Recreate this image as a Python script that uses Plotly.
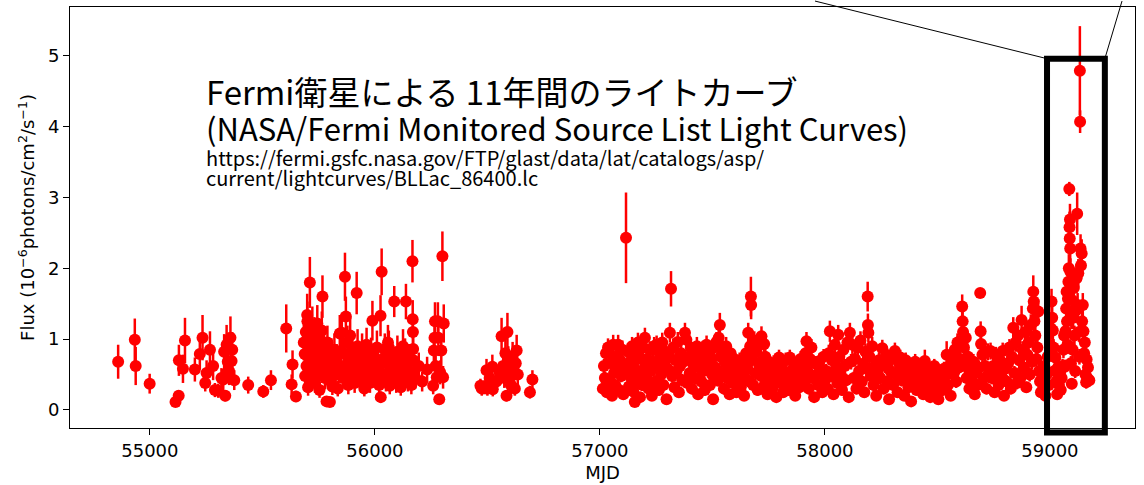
import plotly.graph_objects as go

# Fermi-LAT daily light curve of BL Lac: (MJD, flux [1e-6 ph/cm2/s], 1-sigma error)
early_2009 = [
    (54859, 0.68, 0.24), (54933, 0.99, 0.30), (54937, 0.62, 0.27), (54999, 0.37, 0.14),
    (55114, 0.11, 0.06), (55128, 0.20, 0.08), (55129, 0.70, 0.22), (55147, 0.58, 0.20),
    (55156, 0.98, 0.32), (55200, 0.57, 0.17), (55222, 0.79, 0.22), (55234, 1.02, 0.32),
    (55246, 0.38, 0.12), (55252, 0.52, 0.18), (55267, 0.85, 0.26), (55281, 0.62, 0.20),
    (55289, 0.28, 0.10), (55304, 0.27, 0.10), (55318, 0.45, 0.14), (55326, 0.43, 0.15),
    (55330, 0.82, 0.25), (55335, 0.20, 0.08), (55341, 0.92, 0.28), (55346, 0.68, 0.22),
    (55352, 0.55, 0.20), (55358, 1.02, 0.30), (55363, 0.69, 0.20), (55366, 0.85, 0.25),
    (55375, 0.42, 0.14), (55437, 0.35, 0.12), (55504, 0.26, 0.09), (55538, 0.42, 0.14),
    (55606, 1.15, 0.34), (55630, 0.36, 0.14), (55634, 0.64, 0.20), (55649, 0.19, 0.08),
]

active_2011 = [
    (55684, 0.95, 0.25), (55688, 0.79, 0.22), (55690, 0.48, 0.16), (55693, 1.10, 0.28),
    (55696, 0.62, 0.20), (55699, 1.34, 0.30), (55700, 1.25, 0.28), (55703, 0.32, 0.12),
    (55705, 0.88, 0.24), (55708, 0.55, 0.18), (55711, 1.80, 0.36), (55713, 1.02, 0.26),
    (55716, 0.70, 0.22), (55719, 0.42, 0.15), (55722, 1.18, 0.28), (55725, 0.85, 0.24),
    (55728, 0.60, 0.20), (55731, 1.05, 0.26), (55734, 0.38, 0.14), (55737, 0.92, 0.25),
    (55740, 0.66, 0.20), (55744, 1.22, 0.26), (55747, 0.50, 0.17), (55750, 0.80, 0.22),
    (55754, 0.28, 0.11), (55757, 0.98, 0.25), (55760, 0.72, 0.21), (55764, 1.12, 0.27),
    (55767, 1.60, 0.30), (55770, 0.58, 0.19), (55774, 0.88, 0.23), (55778, 0.45, 0.16),
    (55781, 0.75, 0.21), (55785, 0.12, 0.06), (55789, 0.95, 0.24), (55793, 0.55, 0.18),
    (55797, 0.68, 0.20), (55800, 0.11, 0.06), (55804, 0.40, 0.14), (55807, 0.79, 0.22),
    (55811, 0.33, 0.12), (55815, 0.62, 0.19), (55820, 0.85, 0.23), (55825, 0.50, 0.17),
    (55830, 0.72, 0.21), (55835, 0.30, 0.11), (55840, 0.58, 0.18), (55844, 1.08, 0.26),
    (55849, 0.62, 0.19), (55853, 1.09, 0.27), (55858, 0.45, 0.15), (55862, 0.80, 0.22),
    (55867, 1.88, 0.34), (55871, 1.32, 0.28), (55874, 0.55, 0.18), (55878, 0.95, 0.24),
    (55882, 0.35, 0.13), (55886, 0.70, 0.21), (55890, 1.05, 0.26), (55895, 0.48, 0.16),
    (55900, 0.82, 0.23), (55905, 0.60, 0.19), (55910, 0.38, 0.14), (55914, 0.75, 0.21),
    (55919, 1.65, 0.30), (55923, 0.90, 0.24), (55928, 0.52, 0.17), (55933, 0.68, 0.20),
    (55938, 0.42, 0.15), (55943, 0.85, 0.23), (55948, 0.58, 0.18), (55953, 0.30, 0.11),
    (55958, 0.72, 0.21), (55963, 0.92, 0.24), (55968, 0.50, 0.17), (55973, 0.65, 0.20),
    (55978, 0.38, 0.14), (55983, 0.80, 0.22), (55989, 1.26, 0.28), (55994, 0.55, 0.18),
    (55999, 0.70, 0.21), (56004, 0.45, 0.15), (56009, 0.88, 0.24), (56014, 0.62, 0.19),
    (56019, 0.35, 0.13), (56025, 1.33, 0.29), (56026, 0.18, 0.08), (56030, 1.95, 0.33),
    (56034, 0.72, 0.21), (56039, 0.50, 0.17), (56044, 0.85, 0.23), (56049, 0.40, 0.14),
    (56054, 0.66, 0.20), (56058, 0.95, 0.25), (56062, 0.88, 0.24), (56066, 0.34, 0.12),
    (56070, 0.58, 0.18), (56075, 0.78, 0.22), (56080, 0.45, 0.15), (56086, 1.53, 0.22),
    (56090, 0.65, 0.20), (56095, 0.38, 0.14), (56100, 0.82, 0.23), (56105, 0.55, 0.18),
    (56110, 0.70, 0.21), (56115, 0.32, 0.12), (56120, 0.62, 0.19), (56125, 0.90, 0.24),
    (56130, 0.48, 0.16), (56134, 0.79, 0.22), (56138, 1.53, 0.25), (56142, 0.60, 0.19),
    (56147, 0.40, 0.14), (56152, 0.72, 0.21), (56157, 0.52, 0.17), (56162, 0.35, 0.13),
    (56167, 2.10, 0.30), (56168, 1.28, 0.27), (56169, 1.10, 0.26), (56170, 0.86, 0.24),
    (56171, 0.70, 0.21), (56172, 0.52, 0.17), (56180, 0.45, 0.15), (56195, 0.62, 0.19),
    (56210, 0.40, 0.14), (56232, 0.57, 0.18), (56259, 0.34, 0.12), (56262, 0.84, 0.23),
    (56265, 1.02, 0.26), (56267, 1.25, 0.27), (56270, 0.62, 0.19), (56275, 0.46, 0.16),
    (56280, 1.25, 0.27), (56282, 1.02, 0.26), (56286, 0.15, 0.07), (56290, 0.53, 0.17),
    (56295, 0.84, 0.23), (56300, 2.17, 0.35), (56303, 0.46, 0.16), (56306, 1.22, 0.27),
]

season_2013 = [
    (56469, 0.34, 0.10), (56475, 0.30, 0.10), (56487, 0.32, 0.10), (56496, 0.56, 0.16),
    (56500, 0.30, 0.10), (56510, 0.45, 0.14), (56522, 0.61, 0.17), (56524, 0.29, 0.10),
    (56540, 0.40, 0.13), (56555, 0.52, 0.16), (56563, 1.04, 0.26), (56570, 0.62, 0.18),
    (56575, 0.45, 0.14), (56580, 0.80, 0.22), (56585, 0.20, 0.08), (56589, 1.10, 0.27),
    (56593, 0.70, 0.20), (56597, 0.55, 0.16), (56600, 0.62, 0.18), (56604, 0.35, 0.12),
    (56607, 0.48, 0.15), (56612, 0.75, 0.21), (56616, 0.58, 0.17), (56622, 0.30, 0.10),
    (56626, 0.66, 0.19), (56630, 0.84, 0.22), (56635, 0.50, 0.15), (56689, 0.25, 0.09),
    (56700, 0.43, 0.13),
]

season_2015 = [
    (57013, 0.30, 0.08), (57018, 0.62, 0.10), (57022, 0.45, 0.09), (57027, 0.80, 0.12),
    (57031, 0.25, 0.07), (57036, 0.88, 0.13), (57040, 0.83, 0.12), (57045, 0.40, 0.09),
    (57050, 0.66, 0.11), (57054, 0.20, 0.07), (57059, 0.92, 0.14), (57063, 0.52, 0.10),
    (57068, 0.35, 0.08), (57072, 0.75, 0.11), (57077, 0.58, 0.10), (57081, 0.92, 0.14),
    (57086, 0.28, 0.08), (57090, 0.70, 0.11), (57095, 0.48, 0.09), (57100, 0.85, 0.13),
    (57104, 0.22, 0.07), (57109, 0.62, 0.10), (57116, 2.43, 0.64), (57120, 0.55, 0.10),
    (57125, 0.82, 0.12), (57129, 0.33, 0.08), (57134, 0.68, 0.11), (57139, 0.45, 0.09),
    (57143, 0.90, 0.13), (57148, 0.26, 0.08), (57152, 0.60, 0.10), (57155, 0.11, 0.05),
    (57160, 0.78, 0.12), (57165, 0.40, 0.09), (57169, 0.95, 0.14), (57174, 0.52, 0.10),
    (57178, 0.18, 0.06), (57183, 0.72, 0.11), (57188, 0.35, 0.08), (57192, 0.88, 0.13),
    (57197, 0.58, 0.10), (57200, 1.02, 0.14), (57206, 0.45, 0.09), (57211, 0.72, 0.11),
    (57216, 0.30, 0.08), (57221, 0.85, 0.12), (57226, 0.55, 0.10), (57231, 0.20, 0.07),
    (57236, 0.68, 0.11), (57241, 0.90, 0.13), (57246, 0.40, 0.09), (57252, 0.92, 0.13),
    (57257, 0.62, 0.10), (57262, 0.28, 0.08), (57267, 0.78, 0.12), (57272, 0.50, 0.10),
    (57277, 0.95, 0.14), (57282, 0.35, 0.08), (57287, 0.65, 0.11), (57292, 0.82, 0.12),
    (57296, 0.15, 0.06), (57301, 0.58, 0.10), (57306, 0.75, 0.11), (57311, 1.09, 0.14),
    (57316, 1.71, 0.25), (57321, 0.48, 0.09), (57326, 0.88, 0.13), (57331, 0.32, 0.08),
    (57336, 0.70, 0.11), (57341, 0.55, 0.10), (57346, 0.96, 0.14), (57351, 0.25, 0.07),
    (57356, 0.62, 0.10), (57361, 0.80, 0.12), (57366, 0.42, 0.09), (57371, 0.68, 0.11),
    (57378, 1.09, 0.14), (57384, 0.99, 0.13), (57389, 0.38, 0.09), (57394, 0.75, 0.11),
    (57399, 0.52, 0.10), (57404, 0.88, 0.13), (57409, 0.30, 0.08), (57414, 0.65, 0.11),
    (57419, 0.80, 0.12), (57424, 0.45, 0.09), (57431, 0.90, 0.13), (57436, 0.22, 0.07),
    (57441, 0.60, 0.10), (57446, 0.72, 0.11),
]

season_2016 = [
    (57451, 0.40, 0.09), (57456, 0.85, 0.12), (57461, 0.55, 0.10), (57466, 0.28, 0.08),
    (57474, 0.92, 0.13), (57479, 0.62, 0.10), (57484, 0.78, 0.12), (57489, 0.35, 0.08),
    (57494, 0.70, 0.11), (57499, 0.50, 0.10), (57503, 0.15, 0.06), (57508, 0.88, 0.13),
    (57513, 0.60, 0.10), (57518, 0.96, 0.14), (57523, 0.42, 0.09), (57528, 1.02, 0.14),
    (57533, 1.20, 0.17), (57536, 0.75, 0.11), (57541, 0.52, 0.10), (57546, 0.85, 0.12),
    (57551, 0.30, 0.08), (57556, 0.68, 0.11), (57561, 0.90, 0.13), (57566, 0.45, 0.09),
    (57571, 0.62, 0.10), (57576, 0.22, 0.07), (57581, 0.80, 0.12), (57586, 0.55, 0.10),
    (57591, 0.38, 0.09), (57596, 0.72, 0.11), (57601, 0.48, 0.09), (57606, 0.25, 0.07),
    (57611, 0.66, 0.11), (57616, 0.40, 0.09), (57621, 0.70, 0.11), (57626, 0.32, 0.08),
    (57631, 0.55, 0.10), (57636, 0.68, 0.11), (57641, 0.20, 0.07), (57646, 0.45, 0.09),
    (57650, 0.80, 0.12), (57655, 0.58, 0.10), (57659, 1.09, 0.14), (57664, 0.40, 0.09),
    (57668, 0.90, 0.13), (57671, 1.60, 0.28), (57672, 1.48, 0.20), (57676, 0.72, 0.11),
    (57681, 0.35, 0.08), (57686, 0.98, 0.13), (57691, 0.52, 0.10), (57696, 0.82, 0.12),
    (57701, 0.28, 0.08), (57706, 0.65, 0.11), (57711, 0.92, 0.13), (57716, 0.48, 0.09),
    (57718, 1.04, 0.14), (57723, 0.60, 0.10), (57728, 0.33, 0.08), (57730, 0.93, 0.13),
    (57735, 0.75, 0.11), (57740, 0.50, 0.10), (57745, 0.22, 0.07), (57750, 0.68, 0.11),
    (57755, 0.42, 0.09), (57760, 0.58, 0.10), (57766, 0.30, 0.08), (57772, 0.66, 0.11),
    (57778, 0.45, 0.09), (57784, 0.18, 0.06), (57790, 0.55, 0.10), (57796, 0.74, 0.11),
    (57802, 0.38, 0.09), (57808, 0.62, 0.10), (57814, 0.25, 0.07), (57820, 0.50, 0.10),
    (57826, 0.70, 0.11), (57832, 0.42, 0.09), (57838, 0.28, 0.08), (57844, 0.74, 0.11),
    (57850, 0.55, 0.10), (57856, 0.35, 0.08), (57862, 0.65, 0.11), (57868, 0.20, 0.07),
    (57874, 0.48, 0.09), (57880, 0.60, 0.10), (57886, 0.32, 0.08), (57892, 0.72, 0.11),
    (57898, 0.45, 0.09),
]

season_2017 = [
    (57904, 0.62, 0.10), (57910, 0.40, 0.09), (57914, 0.80, 0.12), (57918, 0.97, 0.13),
    (57922, 0.55, 0.10), (57928, 0.30, 0.08), (57934, 0.72, 0.11), (57940, 0.88, 0.12),
    (57946, 0.45, 0.09), (57952, 0.18, 0.06), (57958, 0.65, 0.11), (57964, 0.50, 0.10),
    (57970, 0.35, 0.08), (57976, 0.69, 0.11), (57982, 0.58, 0.10), (57988, 0.25, 0.07),
    (57994, 0.75, 0.11), (58000, 0.42, 0.09), (58006, 0.55, 0.10), (58012, 0.30, 0.08),
    (58017, 0.80, 0.12), (58022, 1.11, 0.15), (58027, 0.48, 0.09), (58032, 0.70, 0.11),
    (58038, 0.22, 0.07), (58044, 0.92, 0.13), (58050, 0.60, 0.10), (58055, 0.38, 0.09),
    (58059, 1.06, 0.14), (58064, 0.75, 0.11), (58070, 0.50, 0.10), (58076, 0.28, 0.08),
    (58082, 0.85, 0.12), (58088, 0.62, 0.10), (58094, 0.42, 0.09), (58100, 0.95, 0.13),
    (58106, 0.18, 0.06), (58111, 1.09, 0.14), (58116, 0.68, 0.11), (58122, 0.92, 0.13),
    (58128, 0.45, 0.09), (58134, 0.72, 0.11), (58140, 0.30, 0.08), (58146, 0.88, 0.12),
    (58152, 0.55, 0.10), (58158, 0.98, 0.13), (58164, 0.40, 0.09), (58170, 0.65, 0.11),
    (58175, 0.25, 0.07), (58180, 0.82, 0.12), (58185, 0.58, 0.10), (58190, 1.60, 0.21),
    (58191, 1.20, 0.16), (58193, 1.09, 0.14), (58198, 0.75, 0.11), (58204, 0.48, 0.09),
    (58210, 0.90, 0.13), (58216, 0.35, 0.08), (58222, 0.62, 0.10), (58228, 0.20, 0.07),
    (58234, 0.52, 0.10), (58240, 0.70, 0.11),
]

season_2018 = [
    (58246, 0.45, 0.09), (58251, 0.68, 0.11), (58255, 0.87, 0.12), (58261, 0.30, 0.08),
    (58267, 0.62, 0.10), (58273, 0.78, 0.11), (58279, 0.40, 0.09), (58285, 0.15, 0.06),
    (58291, 0.55, 0.10), (58297, 0.72, 0.11), (58303, 0.35, 0.08), (58311, 0.83, 0.12),
    (58317, 0.50, 0.10), (58323, 0.25, 0.07), (58329, 0.66, 0.11), (58335, 0.74, 0.11),
    (58341, 0.42, 0.09), (58347, 0.58, 0.10), (58353, 0.20, 0.07), (58359, 0.70, 0.11),
    (58365, 0.48, 0.09), (58371, 0.32, 0.08), (58377, 0.62, 0.10), (58383, 0.12, 0.05),
    (58389, 0.55, 0.10), (58395, 0.40, 0.09), (58401, 0.68, 0.11), (58407, 0.28, 0.08),
    (58413, 0.50, 0.10), (58419, 0.60, 0.10), (58425, 0.38, 0.09), (58431, 0.55, 0.10),
    (58437, 0.22, 0.07), (58444, 0.69, 0.16), (58450, 0.45, 0.09), (58456, 0.30, 0.08),
    (58462, 0.60, 0.10), (58468, 0.18, 0.06), (58474, 0.50, 0.10), (58480, 0.35, 0.08),
    (58486, 0.62, 0.10), (58492, 0.25, 0.07), (58498, 0.42, 0.09), (58504, 0.15, 0.06),
    (58511, 0.54, 0.10), (58517, 0.40, 0.09), (58523, 0.28, 0.08), (58529, 0.58, 0.10),
    (58535, 0.48, 0.09), (58541, 0.78, 0.19), (58547, 0.35, 0.08), (58553, 0.62, 0.10),
    (58559, 0.20, 0.07), (58565, 0.72, 0.11), (58571, 0.50, 0.10), (58577, 0.85, 0.12),
    (58583, 0.40, 0.09), (58589, 0.95, 0.13), (58595, 0.60, 0.10),
]

season_2019 = [
    (58601, 0.72, 0.11), (58606, 0.98, 0.13), (58610, 1.46, 0.17), (58612, 1.25, 0.15),
    (58614, 1.10, 0.14), (58618, 0.88, 0.12), (58622, 0.62, 0.10), (58626, 1.02, 0.14),
    (58630, 0.45, 0.09), (58636, 0.75, 0.11), (58642, 0.30, 0.08), (58648, 0.58, 0.10),
    (58654, 0.40, 0.09), (58660, 0.68, 0.11), (58666, 0.22, 0.07), (58672, 0.52, 0.10),
    (58678, 0.35, 0.08), (58684, 0.60, 0.10), (58690, 1.65, 0.05), (58692, 1.11, 0.14),
    (58694, 0.93, 0.13), (58700, 0.78, 0.11), (58706, 0.45, 0.09), (58712, 0.62, 0.10),
    (58718, 0.30, 0.08), (58724, 0.82, 0.12), (58730, 0.55, 0.10), (58736, 0.83, 0.12),
    (58742, 0.45, 0.09), (58748, 0.62, 0.10), (58754, 0.25, 0.07), (58760, 0.78, 0.11),
    (58766, 0.55, 0.10), (58772, 0.35, 0.08), (58778, 0.70, 0.11), (58784, 0.48, 0.09),
    (58790, 0.83, 0.12), (58796, 0.20, 0.07), (58802, 0.58, 0.10), (58808, 0.40, 0.09),
    (58814, 0.66, 0.11), (58820, 0.88, 0.12), (58826, 0.30, 0.08), (58831, 0.75, 0.11),
    (58837, 1.16, 0.15), (58842, 0.52, 0.10), (58848, 0.95, 0.13), (58853, 0.38, 0.09),
    (58858, 1.05, 0.14), (58864, 0.70, 0.11), (58869, 0.45, 0.09), (58874, 1.27, 0.20),
    (58879, 0.85, 0.12), (58884, 0.60, 0.10), (58890, 1.10, 0.14), (58895, 0.32, 0.08),
    (58900, 0.78, 0.11), (58905, 0.95, 0.13), (58910, 0.50, 0.10), (58915, 1.20, 0.15),
    (58920, 0.68, 0.11), (58924, 1.43, 0.17), (58926, 1.67, 0.23), (58928, 1.53, 0.18),
    (58931, 1.25, 0.15), (58935, 1.05, 0.14), (58940, 0.72, 0.11), (58944, 0.88, 0.12),
    (58948, 1.39, 0.17), (58952, 0.55, 0.10), (58956, 0.40, 0.09), (58960, 0.25, 0.07),
    (58965, 0.45, 0.09), (58970, 0.30, 0.08), (58975, 0.62, 0.10), (58980, 0.20, 0.07),
    (58985, 0.50, 0.10), (58990, 0.75, 0.11), (58995, 0.35, 0.08), (59000, 0.92, 0.13),
    (59004, 1.15, 0.15), (59007, 1.53, 0.18), (59010, 1.30, 0.16), (59013, 1.12, 0.14),
    (59016, 0.88, 0.12), (59020, 0.55, 0.10), (59024, 0.74, 0.11), (59028, 0.40, 0.09),
    (59032, 0.22, 0.07), (59036, 0.60, 0.10), (59040, 0.35, 0.08), (59044, 0.50, 0.10),
    (59048, 0.28, 0.08), (59052, 0.45, 0.09), (59056, 0.62, 0.10),
]

flare_2020 = [
    (59060, 0.85, 0.12), (59063, 1.05, 0.14), (59066, 0.61, 0.10), (59069, 1.11, 0.14),
    (59072, 1.43, 0.17), (59074, 1.67, 0.18), (59076, 1.25, 0.15), (59078, 0.92, 0.13),
    (59080, 1.57, 0.18), (59082, 1.81, 0.19), (59084, 2.00, 0.20), (59086, 3.12, 0.10),
    (59087, 2.58, 0.22), (59088, 2.42, 0.21), (59089, 2.69, 0.22), (59090, 2.28, 0.20),
    (59091, 1.95, 0.19), (59093, 0.66, 0.10), (59095, 1.30, 0.16), (59097, 0.37, 0.08),
    (59099, 1.55, 0.18), (59101, 0.85, 0.12), (59103, 1.30, 0.16), (59106, 1.72, 0.19),
    (59109, 1.05, 0.14), (59112, 0.55, 0.10), (59115, 1.40, 0.17), (59118, 1.86, 0.20),
    (59121, 2.77, 0.30), (59123, 1.48, 0.17), (59126, 1.93, 0.20), (59129, 1.10, 0.14),
    (59131, 0.75, 0.11), (59133, 4.79, 0.63), (59134, 4.07, 0.16), (59136, 2.28, 0.20),
    (59138, 2.04, 0.20), (59141, 2.21, 0.20), (59143, 1.25, 0.15), (59146, 1.48, 0.17),
    (59149, 1.11, 0.14), (59152, 0.80, 0.12), (59155, 0.95, 0.13), (59158, 0.50, 0.10),
    (59161, 0.39, 0.09), (59163, 0.71, 0.11), (59166, 0.45, 0.09), (59169, 0.60, 0.10),
    (59175, 0.42, 0.09),
]

seasons = [early_2009, active_2011, season_2013, season_2015, season_2016,
           season_2017, season_2018, season_2019, flare_2020]
points = [p for s in seasons for p in s]
mjd = [p[0] for p in points]
flux = [p[1] for p in points]
flux_err = [p[2] for p in points]

x_range = [54645, 59378]
y_range = [-0.256, 5.69]
x_ticks = [55000, 56000, 57000, 58000, 59000]
y_ticks = [0, 1, 2, 3, 4, 5]

# zoom box around the 2020 outburst and its connector lines
zoom_box = dict(x0=58987, x1=59244, y0=-0.32, y1=4.96)

title_line1 = "Fermi衛星による 11年間のライトカーブ"
title_line2 = "(NASA/Fermi Monitored Source List Light Curves)"
source_line1 = "https://fermi.gsfc.nasa.gov/FTP/glast/data/lat/catalogs/asp/"
source_line2 = "current/lightcurves/BLLac_86400.lc"

W, H = 1144, 485
M = dict(l=70, r=9, t=6, b=54)
pw, ph = W - M["l"] - M["r"], H - M["t"] - M["b"]


def xd(v):
    return (v - x_range[0]) / (x_range[1] - x_range[0])


def yd(v):
    return (v - y_range[0]) / (y_range[1] - y_range[0])


def px_to_paper(px, py):
    return (px - M["l"]) / pw, (H - M["b"] - py) / ph


fig = go.Figure()
fig.add_trace(go.Scatter(
    x=mjd, y=flux, mode="markers",
    marker=dict(color="#ff0000", size=12, line=dict(width=0)),
    error_y=dict(type="data", array=flux_err, visible=True,
                 color="#ff0000", thickness=2.5, width=0),
    showlegend=False, hoverinfo="x+y",
))

# black frame around the outburst
fig.add_shape(type="rect", xref="x domain", yref="y domain",
              x0=xd(zoom_box["x0"]), x1=xd(zoom_box["x1"]),
              y0=yd(zoom_box["y0"]), y1=yd(zoom_box["y1"]),
              line=dict(color="black", width=6), fillcolor="rgba(0,0,0,0)",
              layer="above")

# connector lines toward the enlarged view
lx0, ly0 = px_to_paper(815, 0)
rx0, ry0 = px_to_paper(1122, 0)
fig.add_shape(type="line", xref="paper", yref="paper",
              x0=lx0, y0=ly0, x1=xd(zoom_box["x0"]), y1=yd(zoom_box["y1"]),
              line=dict(color="black", width=1))
fig.add_shape(type="line", xref="paper", yref="paper",
              x0=xd(zoom_box["x1"]), y0=yd(zoom_box["y1"]), x1=rx0, y1=ry0,
              line=dict(color="black", width=1))

jp_font = "Noto Sans CJK JP"
texts = [
    (title_line1, 91, 33),
    (title_line2, 128, 31),
    (source_line1, 158, 20),
    (source_line2, 178, 20),
]
for txt, cy, size in texts:
    ax, ay = px_to_paper(205, cy)
    fig.add_annotation(text=txt, xref="paper", yref="paper", x=ax, y=ay,
                       xanchor="left", yanchor="middle", showarrow=False,
                       borderpad=0,
                       font=dict(family=jp_font, size=size, color="black"))

axis_common = dict(showgrid=False, zeroline=False, showline=True, mirror=True,
                   linecolor="black", linewidth=1, ticks="outside", ticklen=6,
                   tickwidth=1, tickcolor="black",
                   tickfont=dict(family="DejaVu Sans", size=18, color="black"))

fig.update_layout(
    width=W, height=H, margin=M,
    paper_bgcolor="white", plot_bgcolor="white",
    xaxis=dict(range=x_range, tickvals=x_ticks,
               ticktext=[str(v) for v in x_ticks],
               title=dict(text="MJD", font=dict(family="DejaVu Sans", size=18, color="black"),
                          standoff=6),
               **axis_common),
    yaxis=dict(range=y_range, tickvals=y_ticks,
               ticktext=[str(v) for v in y_ticks],
               title=dict(text="Flux (10<sup>−6</sup>photons/cm<sup>2</sup>/s<sup>−1</sup>)",
                          font=dict(family="DejaVu Sans", size=18, color="black"),
                          standoff=8),
               **axis_common),
)

fig.write_html("out.html")
